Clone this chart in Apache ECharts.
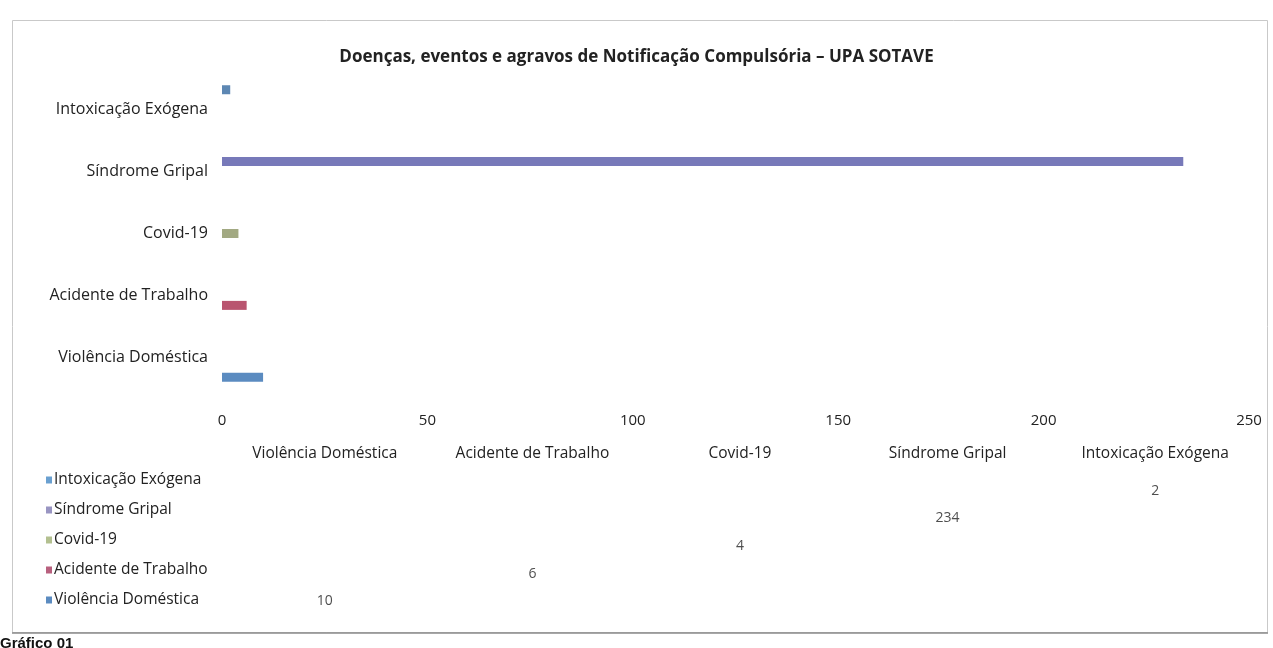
<!DOCTYPE html>
<html>
<head>
<meta charset="utf-8">
<script src="https://cdn.jsdelivr.net/npm/echarts@6/dist/echarts.min.js"></script>
<style>
html,body{margin:0;padding:0;background:#fff;}
#chart{width:1273px;height:648px;}
</style>
</head>
<body>
<div id="chart"></div>
<script>
// Categories, bottom to top on the chart
const categories = ['Violência Doméstica', 'Acidente de Trabalho', 'Covid-19', 'Síndrome Gripal', 'Intoxicação Exógena'];
// One value per category (each category is its own series)
const values = [10, 6, 4, 234, 2];
const seriesColors = ['#5b8bc0', '#b9546f', '#a2a982', '#7779b9', '#5d87b3'];
const legendColors = ['#5b8bc0', '#b8607e', '#b3c090', '#9995c2', '#6aa0d0'];
const xTicks = [0, 50, 100, 150, 200, 250];
const titleText = 'Doenças, eventos e agravos de Notificação Compulsória – UPA SOTAVE';
const captionText = 'Gráfico 01';

const FONT = '"Open Sans", Lato, sans-serif';

// Series order: top slot first (Intoxicação) down to Violência
const seriesOrder = [4, 3, 2, 1, 0];

const barSeries = seriesOrder.map(function (ci) {
  return {
    name: categories[ci],
    type: 'bar',
    xAxisIndex: 0,
    yAxisIndex: 0,
    barWidth: 9,
    barGap: '12%',
    itemStyle: { color: seriesColors[ci] },
    data: categories.map(function (c, j) { return j === ci ? values[ci] : null; })
  };
});

// Data table as scatter labels on a category x category grid
const tableData = categories.map(function (c, i) { return [i, i, values[i]]; });

const option = {
  animation: false,
  backgroundColor: '#ffffff',
  title: {
    text: titleText,
    left: 'center',
    top: 44,
    textStyle: { fontFamily: FONT, fontSize: 17, fontWeight: 'bold', color: '#222' }
  },
  legend: {
    orient: 'vertical',
    left: 41,
    top: 467,
    itemWidth: 6,
    itemHeight: 7,
    itemGap: 14,
    icon: 'rect',
    data: seriesOrder.map(function (ci) {
      return { name: categories[ci], itemStyle: { color: legendColors[ci] } };
    }),
    textStyle: { fontFamily: FONT, fontSize: 15.5, lineHeight: 16, color: '#222', padding: [0, 0, 0, -3] }
  },
  grid: [
    { left: 222, right: 24, top: 79, height: 309 },
    { left: 221, right: 14, top: 477, height: 138 }
  ],
  xAxis: [
    {
      gridIndex: 0,
      type: 'value',
      min: 0, max: 250, interval: 50,
      axisLine: { show: false },
      axisTick: { show: false },
      splitLine: { show: false },
      axisLabel: {
        margin: 25,
        fontFamily: FONT, fontSize: 15, color: '#222',
        customValues: xTicks
      }
    },
    {
      gridIndex: 1,
      type: 'category',
      position: 'top',
      data: categories,
      axisLine: { show: false },
      axisTick: { show: false },
      splitLine: { show: false },
      axisLabel: { margin: 15, fontFamily: FONT, fontSize: 15.5, color: '#222', interval: 0 }
    }
  ],
  yAxis: [
    {
      gridIndex: 0,
      type: 'category',
      data: categories,
      axisLine: { show: false },
      axisTick: { show: false },
      axisLabel: { margin: 14, fontFamily: FONT, fontSize: 16, color: '#222' }
    },
    {
      gridIndex: 1,
      type: 'category',
      data: categories,
      show: false
    }
  ],
  series: barSeries.concat([{
    type: 'scatter',
    xAxisIndex: 1,
    yAxisIndex: 1,
    symbolSize: 0,
    data: tableData,
    label: {
      show: true,
      position: 'inside',
      fontFamily: FONT, fontSize: 14, color: '#222',
      formatter: function (p) { return String(p.value[2]); }
    }
  }]),
  graphic: [
    {
      type: 'rect',
      shape: { x: 12.5, y: 20.5, width: 1255, height: 612 },
      style: { fill: null, stroke: '#c9c9c9', lineWidth: 1 },
      silent: true
    },
    {
      type: 'line',
      shape: { x1: 12, y1: 633, x2: 1268, y2: 633 },
      style: { stroke: '#8a8a8a', lineWidth: 1.5 },
      silent: true
    },
    {
      type: 'text',
      left: 0,
      top: 636,
      style: { text: captionText, font: 'bold 15px "Liberation Sans", Arial, sans-serif', fill: '#111' },
      silent: true
    }
  ]
};

const chart = echarts.init(document.getElementById('chart'), null, { renderer: 'canvas' });
chart.setOption(option);
</script>
</body>
</html>
